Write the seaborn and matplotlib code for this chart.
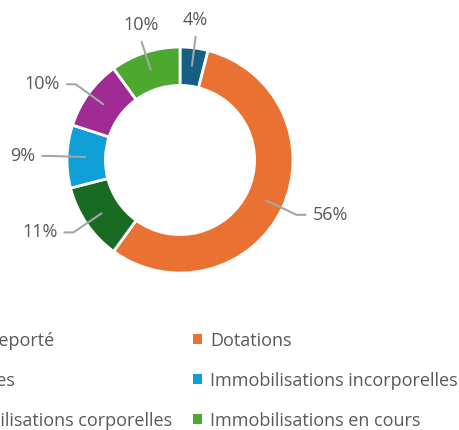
import numpy as np
import matplotlib.pyplot as plt
import seaborn as sns
from matplotlib.patches import Patch

# Chart data
categories = ["Solde reporté", "Dotations", "Réserves",
              "Immobilisations incorporelles", "Immobilisations corporelles",
              "Immobilisations en cours"]
shares = [4, 56, 11, 9, 10, 10]
colors = ["#156082", "#E97132", "#196B24", "#0F9ED5", "#A02B93", "#4EA72E"]

sns.set_theme(style="white")
plt.rcParams["font.family"] = ["Open Sans", "DejaVu Sans"]
text_color = "#595959"
line_color = "#A6A6A6"
fs = 13

fig = plt.figure(figsize=(4.6, 4.3), dpi=100)
# square axes holding the donut (radius 113 px, centre at 180,160 from top-left)
ax = fig.add_axes([(180 - 113) / 460, (270 - 113) / 430, 226 / 460, 226 / 430])

wedges, _ = ax.pie(shares, colors=colors, startangle=90, counterclock=False,
                   radius=1, wedgeprops=dict(width=0.34, edgecolor="white", linewidth=2))
ax.set_xlim(-1, 1)
ax.set_ylim(-1, 1)
ax.set_aspect("equal")
ax.axis("off")

# percentage labels with leader lines
for w, v in zip(wedges, shares):
    ang = np.deg2rad((w.theta1 + w.theta2) / 2)
    x, y = np.cos(ang), np.sin(ang)
    start = (0.84 * x, 0.84 * y)
    if abs(x) < 0.45:
        end = (1.1 * x, 1.1 * y)
        ax.plot([start[0], end[0]], [start[1], end[1]], color=line_color, lw=1.5, clip_on=False)
        ax.text(end[0], end[1] + 0.15, f"{v}%", ha="center", va="center",
                fontsize=fs, color=text_color)
    else:
        end = (1.14 * x, 1.14 * y)
        side = np.sign(x)
        hook = end[0] + side * 0.08
        ax.plot([start[0], end[0], hook], [start[1], end[1], end[1]],
                color=line_color, lw=1.5, clip_on=False)
        ax.text(hook + side * 0.06, end[1], f"{v}%", ha="left" if side > 0 else "right",
                va="center", fontsize=fs, color=text_color)

# legend filled row by row (matplotlib fills column by column)
order = [0, 2, 4, 1, 3, 5]
handles = [Patch(facecolor=colors[i], edgecolor="none") for i in order]
labels = [categories[i] for i in order]
fig.legend(handles, labels, ncol=2, loc="upper right", bbox_to_anchor=(458 / 460, 0.229),
           frameon=False, fontsize=fs, labelcolor=text_color,
           handlelength=0.5, handleheight=0.5, handletextpad=0.45,
           columnspacing=1.15, labelspacing=1.22, borderpad=0, borderaxespad=0)

fig.savefig("out.png", dpi=100)
